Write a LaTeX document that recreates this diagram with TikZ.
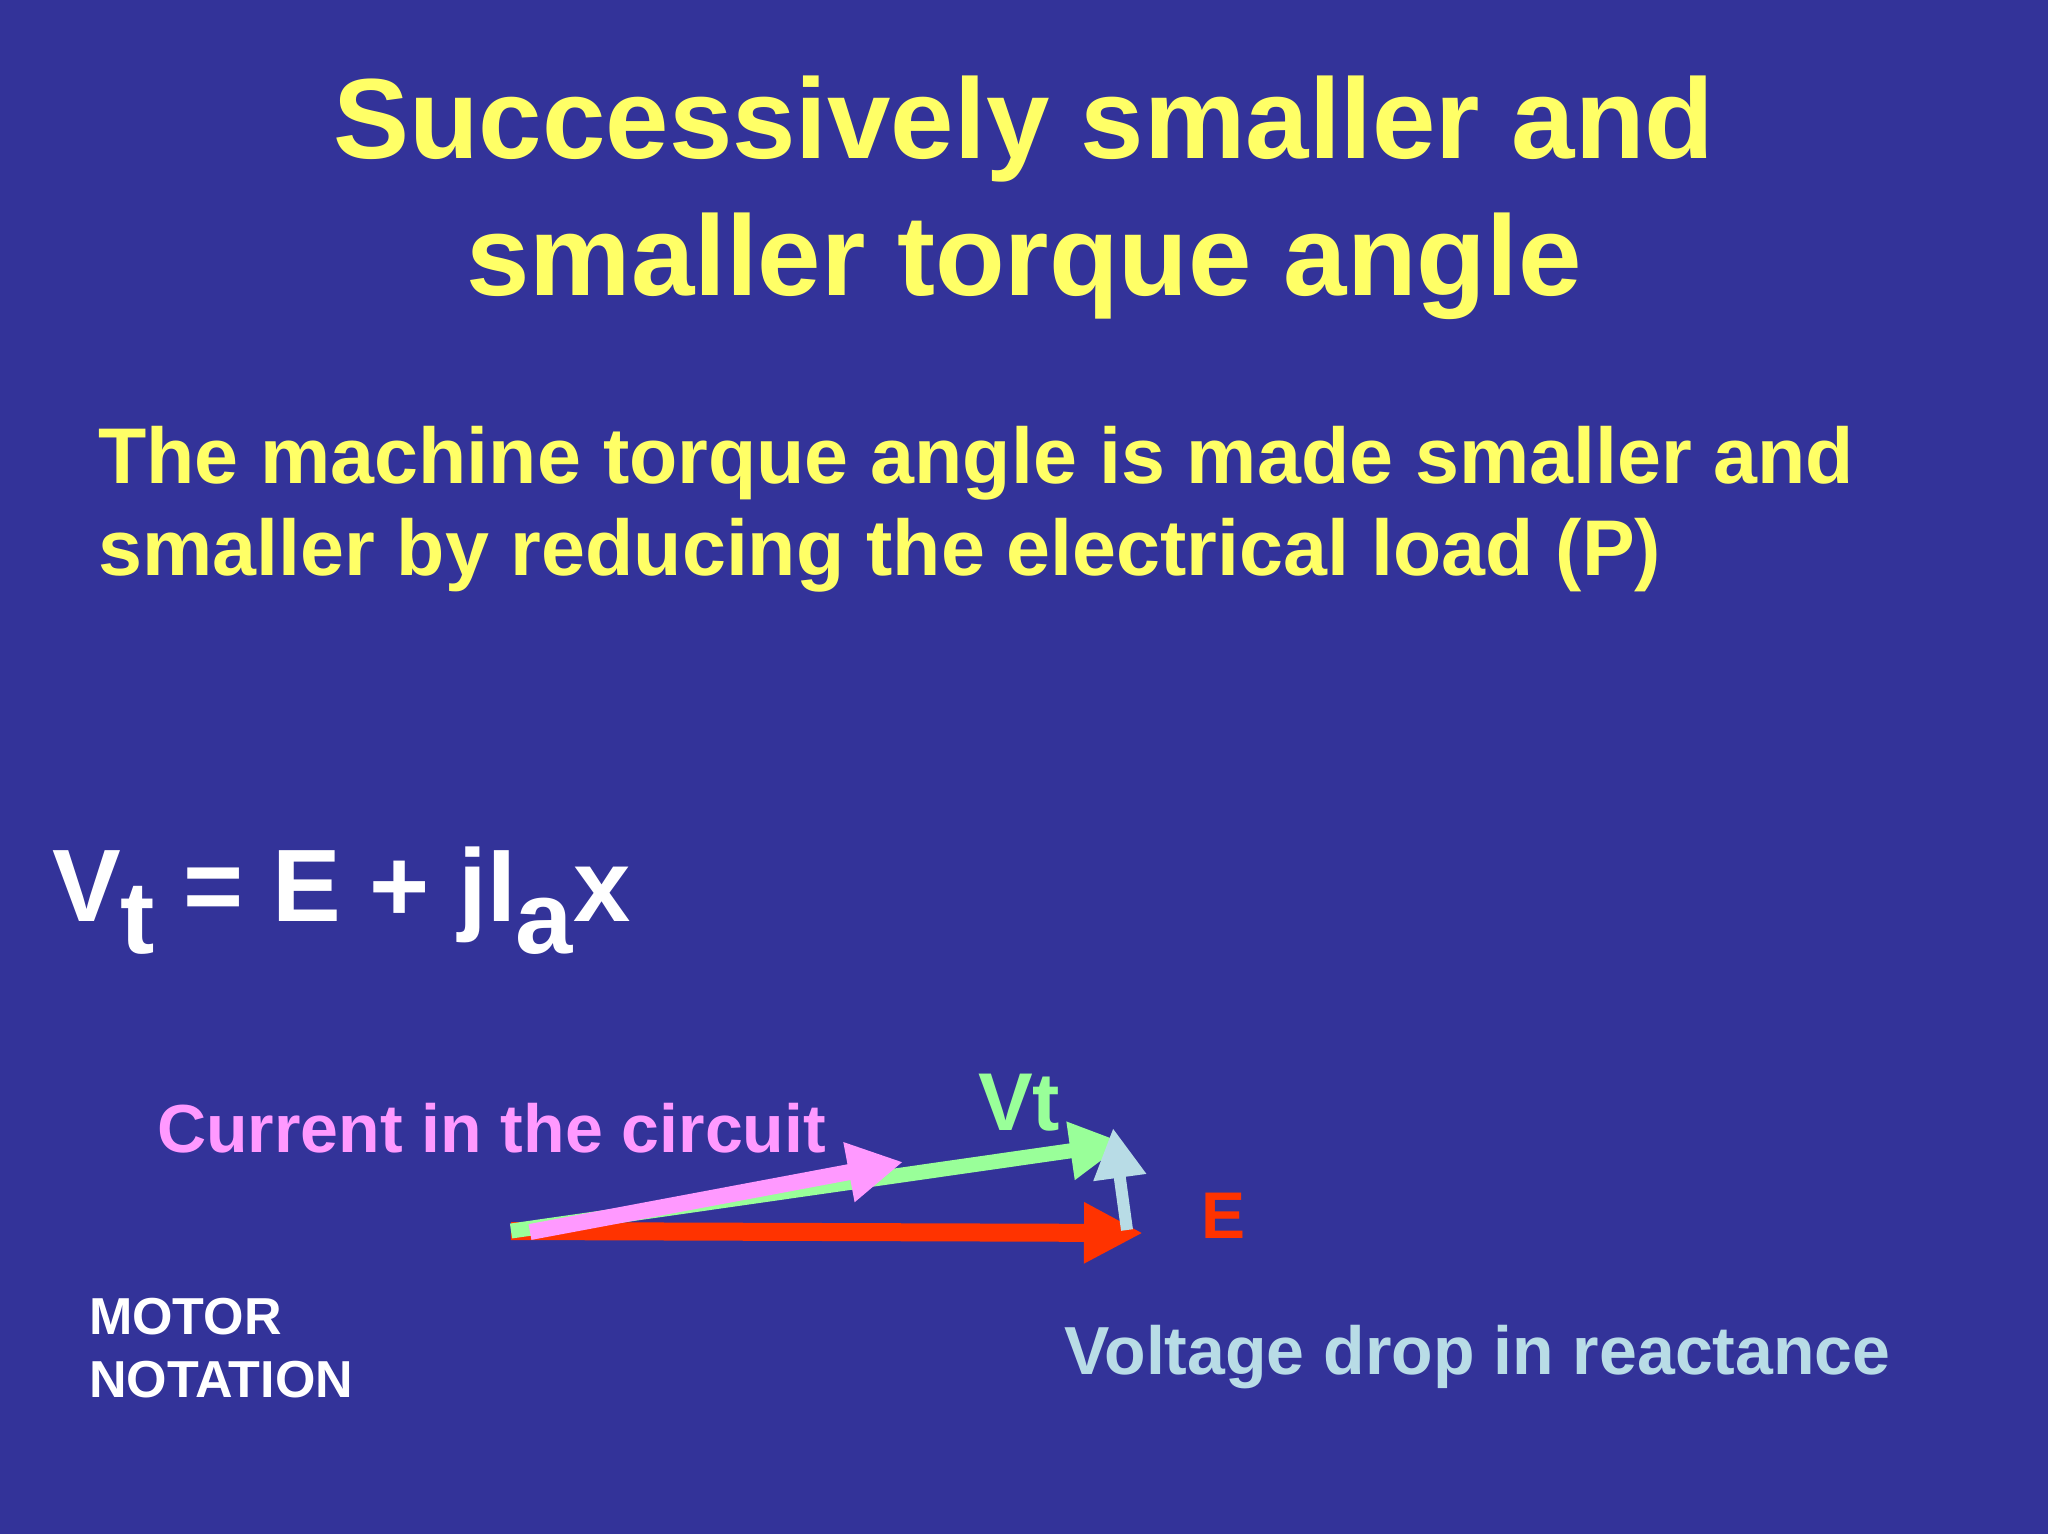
\documentclass[tikz,border=0pt]{standalone}
\usepackage{fontspec}
\setmainfont{Liberation Sans}
\usetikzlibrary{arrows.meta}
\definecolor{bg}{HTML}{333399}
\definecolor{ylw}{HTML}{FFFF66}
\definecolor{pnk}{HTML}{FF99FF}
\definecolor{grn}{HTML}{99FF99}
\definecolor{rd}{HTML}{FF3300}
\definecolor{lb}{HTML}{B8DCE6}
\begin{document}
\begin{tikzpicture}[x=1pt,y=-1pt,
  txt/.style={inner sep=0pt,font=\bfseries},
  vec/.style={line width=#1}]
\fill[bg] (0,0) rectangle (2048,1534);
\useasboundingbox (0,0) rectangle (2048,1534);
\node[txt,text=ylw,font=\bfseries\fontsize{114}{137}\selectfont,align=center,anchor=base] (title) at (1024,295) {Successively smaller and\\smaller torque angle};
\node[txt,text=ylw,font=\bfseries\fontsize{79}{92}\selectfont,align=left,anchor=base west] (sub) at (98,575) {The machine torque angle is made smaller and\\smaller by reducing the electrical load (P)};
\node[txt,text=white,font=\bfseries\fontsize{103}{110}\selectfont,anchor=base west] (eq) at (52,921) {V\raisebox{-0.6ex}{t} = E + jI\raisebox{-0.6ex}{a}x};
\node[txt,text=pnk,font=\bfseries\fontsize{68}{80}\selectfont,anchor=base west] (cur) at (157,1152) {Current in the circuit};
\node[txt,text=grn,font=\bfseries\fontsize{82}{90}\selectfont,anchor=base west] (vtl) at (978,1130) {Vt};
\node[txt,text=rd,font=\bfseries\fontsize{66}{80}\selectfont,anchor=base west] (el) at (1201,1238) {E};
\node[txt,text=lb,font=\bfseries\fontsize{68}{80}\selectfont,anchor=base west] (vd) at (1064,1374) {Voltage drop in reactance};
\node[txt,text=white,font=\bfseries\fontsize{52}{63}\selectfont,align=left,anchor=base west] (mot) at (89,1397) {MOTOR\\NOTATION};
\coordinate (o) at (511,1231);
\coordinate (etip) at (1143,1233);
\coordinate (vttip) at (1125,1143);
\coordinate (ptip) at (903,1162);
\coordinate (po) at (530,1232);
\coordinate (lo) at (1127,1230);
\coordinate (ltip) at (1113,1128);
\draw[vec=18pt,draw=rd,-{Triangle[length=59pt,width=57pt]}] (o) -- (etip);
\draw[vec=15pt,draw=grn,-{Triangle[length=55pt,width=55pt]}] (o) -- (vttip);
\draw[vec=16pt,draw=pnk,-{Triangle[length=55pt,width=57pt]}] (po) -- (ptip);
\draw[vec=12pt,draw=lb,-{Triangle[length=50pt,width=50pt]}] (lo) -- (ltip);
\end{tikzpicture}
\end{document}
